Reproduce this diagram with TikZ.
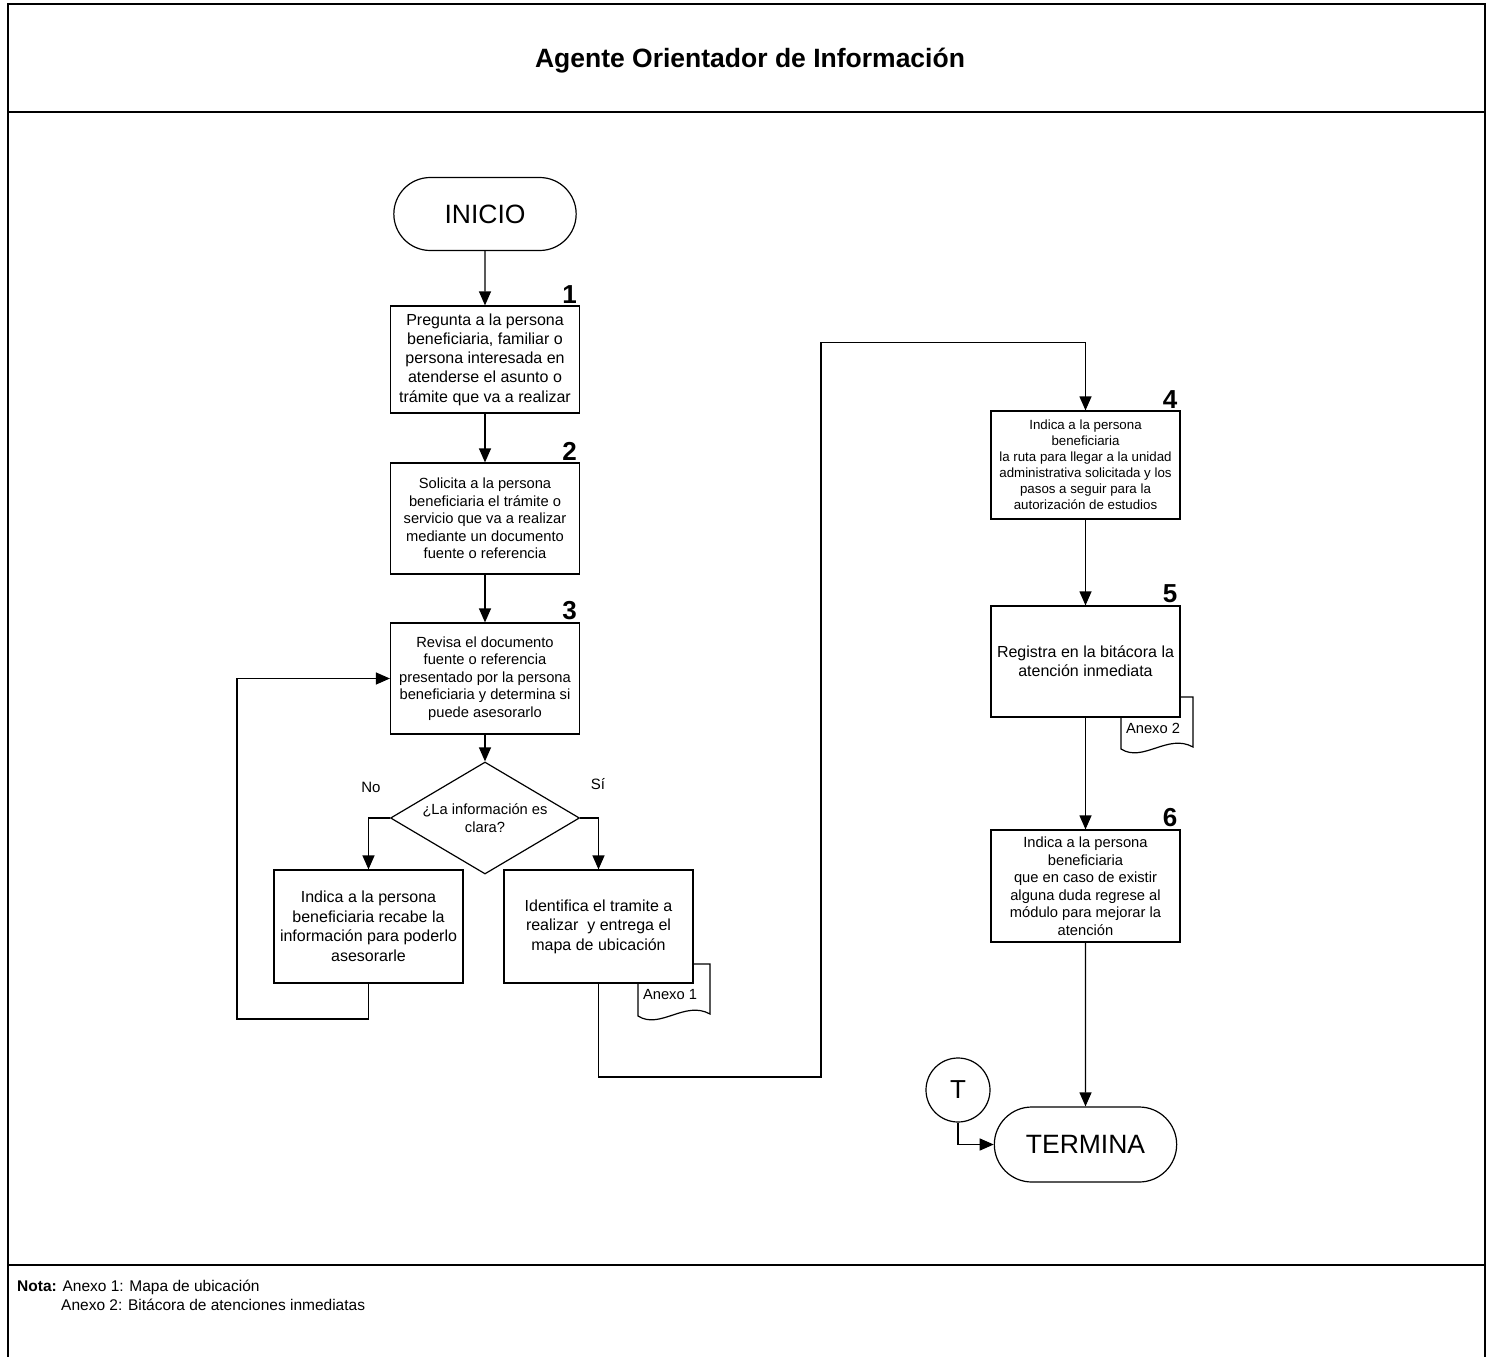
\documentclass[tikz,border=0pt]{standalone}
\usepackage{fontspec}
\setmainfont{Liberation Sans}
\usetikzlibrary{shapes,% rounded rectangle, diamond
arrows.meta}
\tikzset{every node/.style={font=\fontsize{14.7}{17.5}\selectfont}}
\tikzset{
  paso/.style={draw, fill=white, line width=1.2pt, minimum width=189pt,
    minimum height=111pt, align=center, inner sep=0pt},
  grande/.style={font=\fontsize{16}{19.3}\selectfont},
  chico/.style={font=\fontsize{13.3}{16}\selectfont},
  extremo/.style={draw, fill=white, rounded rectangle, line width=1.2pt,
    minimum width=189pt, minimum height=73pt,
    font=\fontsize{26.5}{30}\selectfont},
  decision/.style={draw, fill=white, diamond, aspect=1.69, line width=1.2pt,
    minimum width=189pt, minimum height=112pt, inner sep=0pt, align=center},
  flujo/.style={line width=1.2pt, -{Triangle[length=14pt,width=12pt]}},
  num/.style={font=\fontsize{26}{26}\selectfont\bfseries, inner sep=0pt,
    anchor=south east},
  nota/.style={anchor=base west, inner sep=0pt, font=\fontsize{15.5}{19}\selectfont},
  marco/.style={line width=2.6pt}
}
% documento anexo: esquina superior derecha (#1,#2), etiqueta #3
\newcommand{\anexo}[3]{%
  \draw[line width=1.2pt, fill=white] (#1-72,#2) -- (#1-72,#2+52)
    .. controls (#1-50,#2+66) and (#1-25,#2+36) .. (#1,#2+50)
    -- (#1,#2) -- cycle;
  \node at (#1-40,#2+31) {#3};}

\begin{document}
\begin{tikzpicture}[x=1pt,y=-1pt]
  \useasboundingbox (0,0) rectangle (1492,1357);
  % marco de la hoja
  \draw[marco] (8,4) rectangle (1485,1380);
  \draw[marco] (8,112) -- (1485,112);
  \draw[marco] (8,1265) -- (1485,1265);
  \node[font=\fontsize{26.5}{30}\selectfont\bfseries] (titulo) at (750,61)
    {Agente Orientador de Información};

  % anexos (quedan detras de las cajas)
  \anexo{710}{964}{Anexo 1}
  \anexo{1193}{697}{Anexo 2}

  % primera columna
  \node[extremo] (ini) at (485,214) {INICIO};
  \node[paso,grande,minimum height=107pt] (s1) at (485,359.5)
    {Pregunta a la persona\\beneficiaria, familiar o\\persona interesada en\\atenderse el asunto o\\trámite que va a realizar};
  \node[paso] (s2) at (485,518.5)
    {Solicita a la persona\\beneficiaria el trámite o\\servicio que va a realizar\\mediante un documento\\fuente o referencia};
  \node[paso] (s3) at (485,678.5)
    {Revisa el documento\\fuente o referencia\\presentado por la persona\\beneficiaria y determina si\\puede asesorarlo};
  \node[decision,font=\fontsize{14.7}{18}\selectfont] (dec) at (485,818)
    {¿La información es\\clara?};
  \node[paso,grande,minimum height=113pt,font=\fontsize{16}{19.5}\selectfont] (no) at (368.5,926.5)
    {Indica a la persona\\beneficiaria recabe la\\información para poderlo\\asesorarle};
  \node[paso,minimum height=113pt,font=\fontsize{16}{19.5}\selectfont] (si) at (598.5,926.5)
    {Identifica el tramite a\\realizar\ \ y entrega el\\mapa de ubicación};
  \node[font=\fontsize{15}{18}\selectfont] (lno) at (371,787) {No};
  \node[font=\fontsize{15}{18}\selectfont] (lsi) at (598,784) {Sí};

  % segunda columna
  \node[paso,chico,minimum height=108pt] (s4) at (1085.5,465)
    {Indica a la persona\\beneficiaria\\la ruta para llegar a la unidad\\administrativa solicitada y los\\pasos a seguir para la\\autorización de estudios};
  \node[paso,grande] (s5) at (1085.5,661.5)
    {Registra en la bitácora la\\atención inmediata};
  \node[paso,minimum height=112pt] (s6) at (1085.5,886)
    {Indica a la persona\\beneficiaria\\que en caso de existir\\alguna duda regrese al\\módulo para mejorar la\\atención};
  \node[extremo,minimum height=75pt] (fin) at (1085.5,1144.5) {TERMINA};
  \node[draw,circle,line width=1.2pt,minimum size=64pt,
    font=\fontsize{26}{30}\selectfont] (t) at (958,1090) {T};

  \foreach \n in {1,...,6}
    \node[num] at ([xshift=-3pt,yshift=2pt]s\n.north east) {\n};

  % conectores
  \foreach \a/\b in {ini/s1,s1/s2,s2/s3,s3/dec,s4/s5,s5/s6,s6/fin}
    \draw[flujo] (\a) -- (\b);
  \draw[flujo] (dec.west) -| (no.north);
  \draw[flujo] (dec.east) -| (si.north);
  \draw[flujo] (no.south) |- (237,1019) |- (s3.west);
  \draw[flujo] (si.south) |- (821,1077) |- ([yshift=68pt]s4.north) -- (s4.north);
  \draw[flujo] (t.south) |- (fin.west);

  % nota al pie
  \node[nota] (nota) at (17,1291) {\textbf{Nota:} Anexo 1: Mapa de ubicación};
  \node[nota] (nota2) at (61,1310) {Anexo 2: Bitácora de atenciones inmediatas};
\end{tikzpicture}
\end{document}
